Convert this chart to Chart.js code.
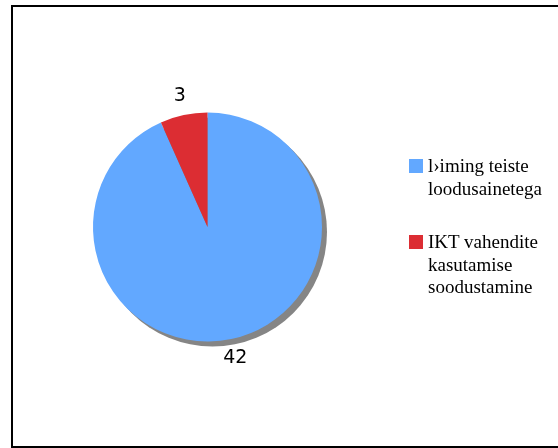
<!DOCTYPE html>
<html>
<head>
<meta charset="utf-8">
<script src="https://cdn.jsdelivr.net/npm/chart.js@4/dist/chart.umd.min.js"></script>
<style>
  html, body { margin: 0; padding: 0; background: #fff; }
  #wrap { position: relative; width: 558px; height: 448px; overflow: hidden; }
  #frame { position: absolute; left: 11px; top: 5px; width: 600px; height: 439px; border: 2px solid #000; }
  #chart { position: absolute; left: 0; top: 0; }
  .legend { position: absolute; left: 409px; font-family: "Liberation Serif", serif; font-size: 19px; line-height: 22.5px; color: #000; }
  .legend .item { position: absolute; left: 0; width: 150px; }
  .legend .box { position: absolute; left: 0; top: 4px; width: 14px; height: 14px; }
  .legend .txt { position: absolute; left: 19px; white-space: nowrap; }
</style>
</head>
<body>
<div id="wrap">
  <div id="frame"></div>
  <canvas id="chart" width="558" height="448"></canvas>
  <div class="legend" id="legend"></div>
</div>
<script>
// pie data
const categories = ['l›iming teiste loodusainetega', 'IKT vahendite kasutamise soodustamine'];
const legendLines = [['l›iming teiste', 'loodusainetega'], ['IKT vahendite', 'kasutamise', 'soodustamine']];
const values = [42, 3];
const colors = ['#62a8ff', '#dc2d33'];

// legend built from the same arrays
const legend = document.getElementById('legend');
const legendTops = [155, 231];
legend.style.top = '0px';
categories.forEach((c, i) => {
  const item = document.createElement('div');
  item.className = 'item';
  item.style.top = legendTops[i] + 'px';
  const box = document.createElement('div');
  box.className = 'box';
  box.style.background = colors[i];
  const txt = document.createElement('div');
  txt.className = 'txt';
  legendLines[i].forEach((line) => {
    const d = document.createElement('div');
    d.textContent = line;
    txt.appendChild(d);
  });
  item.appendChild(box);
  item.appendChild(txt);
  legend.appendChild(item);
});

// gray drop shadow disc behind the pie
const shadowPlugin = {
  id: 'shadowDisc',
  beforeDatasetsDraw(chart) {
    const arc = chart.getDatasetMeta(0).data[0];
    if (!arc) return;
    const { x, y, outerRadius } = arc.getProps(['x', 'y', 'outerRadius'], true);
    const ctx = chart.ctx;
    ctx.save();
    ctx.fillStyle = '#858585';
    ctx.beginPath();
    ctx.arc(x + 5, y + 5, outerRadius, 0, Math.PI * 2);
    ctx.fill();
    ctx.restore();
  }
};

// value labels outside each slice
const valueLabels = {
  id: 'valueLabels',
  afterDatasetsDraw(chart) {
    const ctx = chart.ctx;
    const meta = chart.getDatasetMeta(0);
    ctx.save();
    ctx.font = '19px "DejaVu Sans", sans-serif';
    ctx.fillStyle = '#000';
    ctx.textAlign = 'center';
    ctx.textBaseline = 'middle';
    meta.data.forEach((arc, i) => {
      const { x, y, startAngle, endAngle, outerRadius } =
        arc.getProps(['x', 'y', 'startAngle', 'endAngle', 'outerRadius'], true);
      const mid = (startAngle + endAngle) / 2;
      const r = outerRadius + 19;
      ctx.fillText(String(values[i]), x + Math.cos(mid) * r, y + Math.sin(mid) * r);
    });
    ctx.restore();
  }
};

new Chart(document.getElementById('chart'), {
  type: 'pie',
  data: {
    labels: categories,
    datasets: [{
      data: values,
      backgroundColor: colors,
      borderWidth: 0,
      hoverOffset: 0,
      offset: 0
    }]
  },
  options: {
    responsive: false,
    animation: false,
    layout: { padding: { left: 93, right: 236, top: 112.5, bottom: 106.5 } },
    plugins: {
      legend: { display: false },
      tooltip: { enabled: false }
    }
  },
  plugins: [shadowPlugin, valueLabels]
});
</script>
</body>
</html>
